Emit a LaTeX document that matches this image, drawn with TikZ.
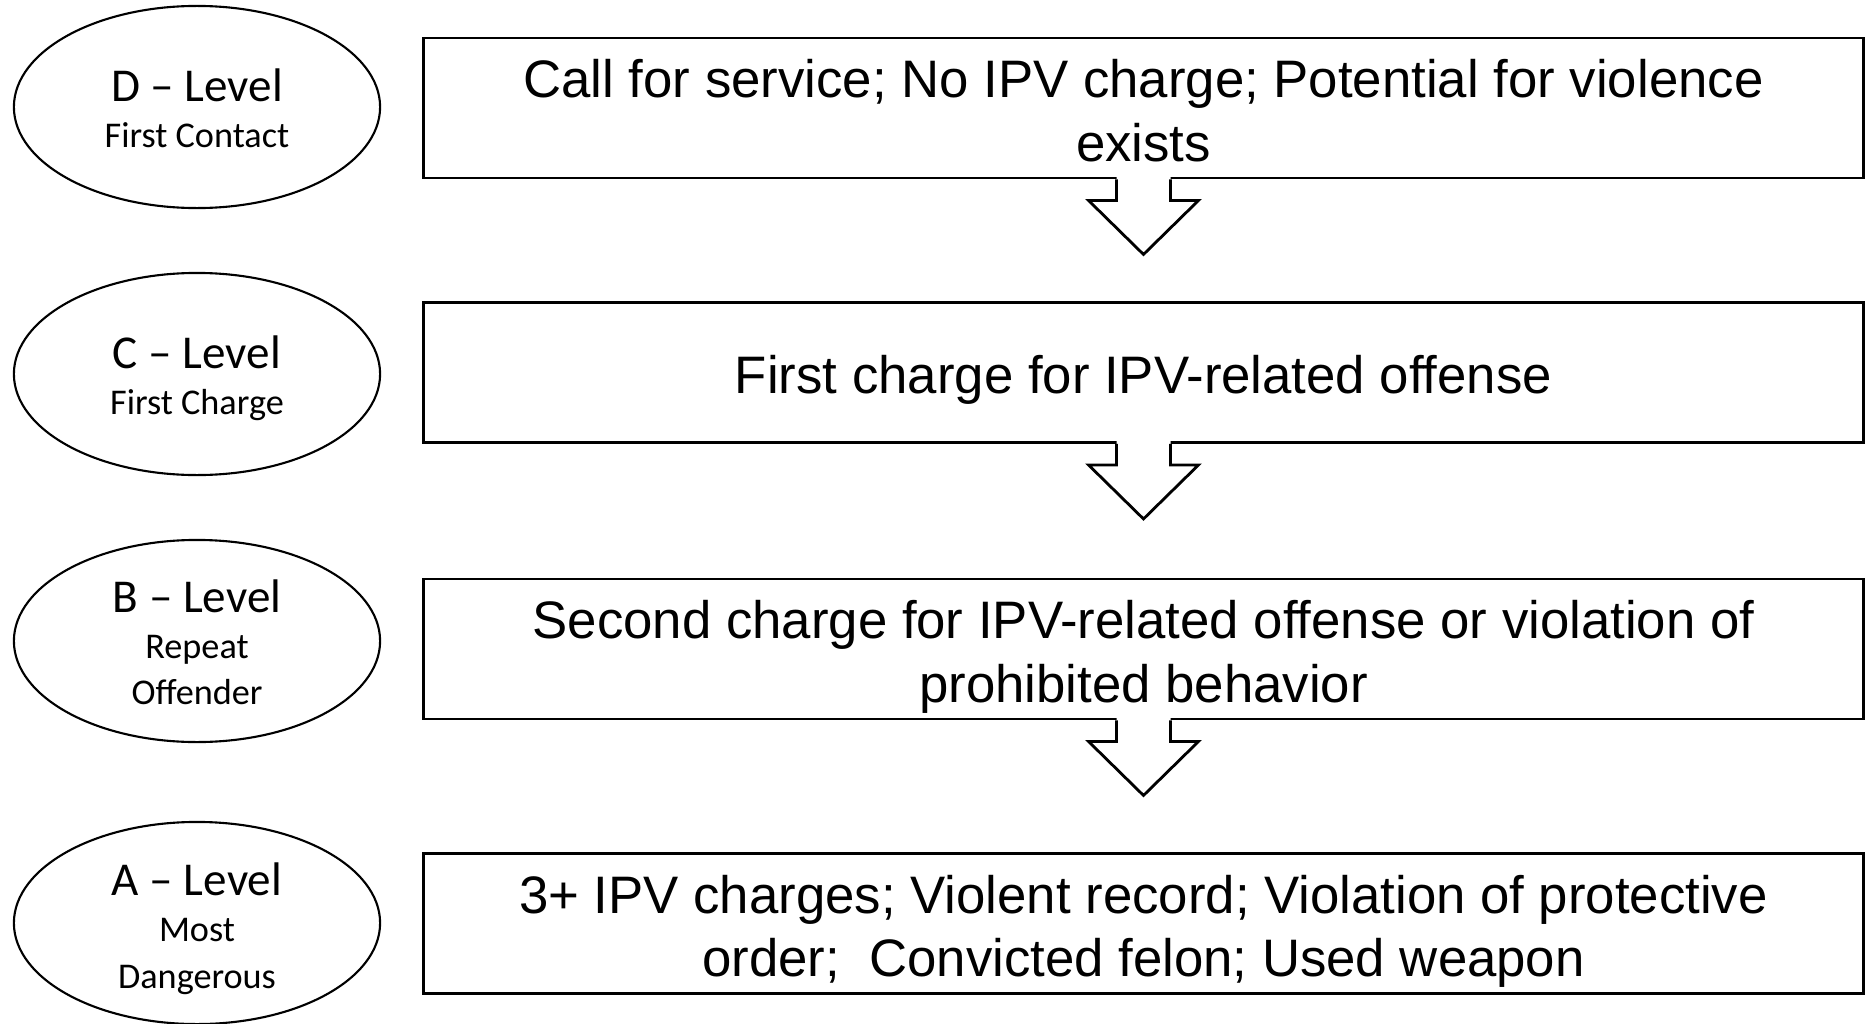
\documentclass[tikz,border=0pt]{standalone}
\usepackage{fontspec}
\setmainfont{Liberation Sans}
\newfontfamily\calibri{Carlito}
\usepackage{tikz}
\usetikzlibrary{shapes}
\tikzstyle{level} = [draw, ellipse, line width=0.6pt, minimum width=3.66cm, minimum height=2.02cm, inner sep=0pt, font=\calibri\fontsize{10.3}{13.1}\selectfont]
\tikzstyle{desc} = [draw, rectangle, line width=0.8pt, minimum width=14.39cm, minimum height=1.40cm, inner sep=0pt, font=\fontsize{15}{18}\selectfont]
\newcommand{\lvltitle}[1]{{\fontsize{13.4}{13.1}\selectfont #1}}
\newcommand{\stacktext}[2]{\raisebox{-#1}[0pt][0pt]{\begin{tabular}{@{}c@{}}#2\end{tabular}}}

\begin{document}
\begin{tikzpicture}[x=0.01cm,y=-0.01cm]
	\useasboundingbox (0,0) rectangle (1869,1024);
	\node[level] (lvlD) at (197,107) {\stacktext{4.8pt}{\lvltitle{D – Level}\\First Contact}};
	\node[level] (lvlC) at (197,374) {\stacktext{4.8pt}{\lvltitle{C – Level}\\First Charge}};
	\node[level] (lvlB) at (197,641) {\stacktext{4.8pt}{\lvltitle{B – Level}\\Repeat\\Offender}};
	\node[level] (lvlA) at (197,923) {\stacktext{5.2pt}{\lvltitle{A – Level}\\Most\\Dangerous}};
	\node[desc] (descD) at (1143.5,108) {\stacktext{6.1pt}{Call for service; No IPV charge; Potential for violence\\exists}};
	\node[desc] (descC) at (1143.5,372.5) {\stacktext{6.1pt}{First charge for IPV-related offense}};
	\node[desc] (descB) at (1143.5,649) {\stacktext{6.1pt}{Second charge for IPV-related offense or violation of\\prohibited behavior}};
	\node[desc] (descA) at (1143.5,923.5) {\stacktext{6.1pt}{3+ IPV charges; Violent record; Violation of protective\\order;\ \ Convicted felon; Used weapon}};
	% block arrows below the boxes
	\foreach \a in {descD,descC,descB}
	{
		\begin{scope}[shift={(\a.south)}]
			\fill[white] (-27,-3) -- (-27,21) -- (-55,21) -- (0,75) -- (55,21) -- (27,21) -- (27,-3) -- cycle;
			\draw[line width=0.8pt] (-27,0) -- (-27,21) -- (-55,21) -- (0,75) -- (55,21) -- (27,21) -- (27,0);
		\end{scope}
	}
\end{tikzpicture}
\end{document}
